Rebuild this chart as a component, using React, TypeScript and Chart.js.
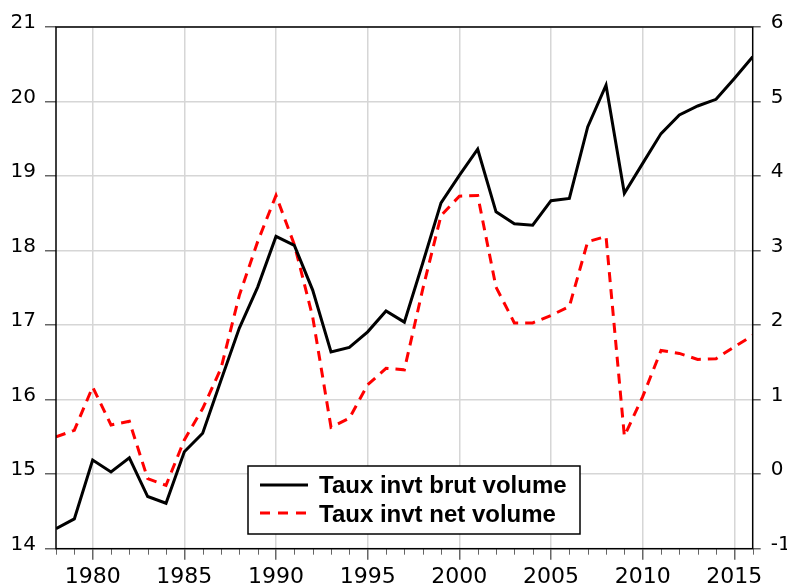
import React, { useEffect, useRef } from "react";
import { Chart, registerables } from "chart.js";

Chart.register(...registerables);

const years = [
  1978, 1979, 1980, 1981, 1982, 1983, 1984, 1985, 1986, 1987,
  1988, 1989, 1990, 1991, 1992, 1993, 1994, 1995, 1996, 1997,
  1998, 1999, 2000, 2001, 2002, 2003, 2004, 2005, 2006, 2007,
  2008, 2009, 2010, 2011, 2012, 2013, 2014, 2015, 2016,
];

const brutVolume = [
  14.27, 14.40, 15.19, 15.03, 15.22, 14.70, 14.61, 15.30, 15.55, 16.26,
  16.96, 17.51, 18.19, 18.07, 17.47, 16.64, 16.70, 16.91, 17.19, 17.04,
  17.83, 18.64, 19.01, 19.36, 18.52, 18.36, 18.34, 18.67, 18.70, 19.66,
  20.22, 18.77, 19.17, 19.57, 19.82, 19.94, 20.03, 20.31, 20.60,
];

const netVolume = [
  0.50, 0.59, 1.17, 0.66, 0.71, -0.06, -0.15, 0.46, 0.88, 1.42,
  2.40, 3.12, 3.74, 3.08, 2.11, 0.63, 0.75, 1.20, 1.42, 1.40,
  2.48, 3.47, 3.73, 3.74, 2.51, 2.03, 2.03, 2.13, 2.25, 3.12,
  3.19, 0.51, 1.04, 1.66, 1.62, 1.54, 1.55, 1.71, 1.86,
];

const leftTicks = [14, 15, 16, 17, 18, 19, 20, 21];
const rightTicks = [-1, 0, 1, 2, 3, 4, 5, 6];
const labelBrut = "Taux invt brut volume";
const labelNet = "Taux invt net volume";

const GRID = "#d6d6d6";
const TICK = "#666666";
const TICK_FONT = "'DejaVu Sans', 'Liberation Sans', Arial, sans-serif";

const framePlugin = {
  id: "frameAndLegend",
  afterDraw(chart: any) {
    const { ctx, chartArea } = chart;
    const xs = chart.scales.x;
    ctx.save();
    ctx.strokeStyle = TICK;
    ctx.lineWidth = 1;
    for (const y of years) {
      if (y % 5 === 0) continue;
      const px = Math.round(xs.getPixelForValue(y)) + 0.5;
      ctx.beginPath();
      ctx.moveTo(px, chartArea.bottom);
      ctx.lineTo(px, chartArea.bottom + 6);
      ctx.stroke();
    }
    ctx.strokeStyle = "#000";
    ctx.lineWidth = 1.5;
    ctx.strokeRect(chartArea.left, chartArea.top, chartArea.right - chartArea.left, chartArea.bottom - chartArea.top);

    const bx = chartArea.left + 192;
    const by = chartArea.top + 439;
    const bw = 332;
    const bh = 68;
    ctx.fillStyle = "#fff";
    ctx.fillRect(bx, by, bw, bh);
    ctx.strokeStyle = "#000";
    ctx.lineWidth = 1.5;
    ctx.strokeRect(bx, by, bw, bh);

    ctx.lineWidth = 3;
    ctx.strokeStyle = "#000";
    ctx.setLineDash([]);
    ctx.beginPath();
    ctx.moveTo(bx + 12, by + 19);
    ctx.lineTo(bx + 60, by + 19);
    ctx.stroke();

    ctx.strokeStyle = "#ff0000";
    ctx.setLineDash([10, 8]);
    ctx.beginPath();
    ctx.moveTo(bx + 12, by + 47);
    ctx.lineTo(bx + 62, by + 47);
    ctx.stroke();
    ctx.setLineDash([]);

    ctx.fillStyle = "#000";
    ctx.font = "bold 24px 'Liberation Sans', Arial, sans-serif";
    ctx.textAlign = "left";
    ctx.textBaseline = "alphabetic";
    ctx.fillText(labelBrut, bx + 71, by + 27);
    ctx.fillText(labelNet, bx + 71, by + 56);
    ctx.restore();
  },
};

export default function App() {
  const canvasRef = useRef<HTMLCanvasElement>(null);

  useEffect(() => {
    if (!canvasRef.current) return;
    const chart = new Chart(canvasRef.current, {
      type: "line",
      data: {
        labels: years,
        datasets: [
          {
            label: labelBrut,
            data: years.map((y, i) => ({ x: y, y: brutVolume[i] })),
            borderColor: "#000000",
            borderWidth: 3,
            pointRadius: 0,
            tension: 0,
            yAxisID: "y",
            order: 1,
          },
          {
            label: labelNet,
            data: years.map((y, i) => ({ x: y, y: netVolume[i] })),
            borderColor: "#ff0000",
            borderWidth: 3,
            borderDash: [10, 7],
            pointRadius: 0,
            tension: 0,
            yAxisID: "y2",
            order: 2,
          },
        ],
      },
      options: {
        animation: false,
        responsive: true,
        maintainAspectRatio: false,
        layout: { padding: { top: 27, left: 0, right: 0, bottom: 0 } },
        plugins: {
          legend: { display: false },
          tooltip: { enabled: false },
        },
        scales: {
          x: {
            type: "linear",
            min: 1978,
            max: 2016,
            afterFit(scale: any) {
              scale.height = 38.3;
            },
            afterBuildTicks(scale: any) {
              scale.ticks = years.map((v) => ({ value: v }));
            },
            border: { display: false },
            grid: {
              color: (c: any) => (c.tick && c.tick.value % 5 === 0 ? GRID : "rgba(0,0,0,0)"),
              tickColor: (c: any) => (c.tick && c.tick.value % 5 === 0 ? TICK : "rgba(0,0,0,0)"),
              tickLength: 11,
              lineWidth: 1.5,
            },
            ticks: {
              autoSkip: false,
              maxRotation: 0,
              padding: 4,
              color: "#000",
              font: { family: TICK_FONT, size: 22 },
              callback: (v: any) => (Number(v) % 5 === 0 ? String(v) : ""),
            },
          },
          y: {
            type: "linear",
            position: "left",
            min: 14,
            max: 21,
            afterFit(scale: any) {
              scale.width = 56;
            },
            afterBuildTicks(scale: any) {
              scale.ticks = leftTicks.map((v) => ({ value: v }));
            },
            border: { display: false },
            grid: {
              color: GRID,
              tickColor: TICK,
              tickLength: 11,
              lineWidth: 1.5,
            },
            ticks: {
              padding: 9,
              labelOffset: -4,
              color: "#000",
              font: { family: TICK_FONT, size: 20 },
            },
          },
          y2: {
            type: "linear",
            position: "right",
            min: -1,
            max: 6,
            afterFit(scale: any) {
              scale.width = 34.3;
            },
            afterBuildTicks(scale: any) {
              scale.ticks = rightTicks.map((v) => ({ value: v }));
            },
            border: { display: false },
            grid: {
              drawOnChartArea: false,
              tickColor: TICK,
              tickLength: 8,
              lineWidth: 1.5,
            },
            ticks: {
              padding: 10,
              labelOffset: -4,
              color: "#000",
              font: { family: TICK_FONT, size: 20 },
            },
          },
        },
      },
      plugins: [framePlugin],
    });
    return () => chart.destroy();
  }, []);

  return (
    <div style={{ position: "fixed", left: 0, top: 0, width: 787, height: 587, overflow: "hidden", background: "#fff" }}>
      <canvas ref={canvasRef} />
    </div>
  );
}
